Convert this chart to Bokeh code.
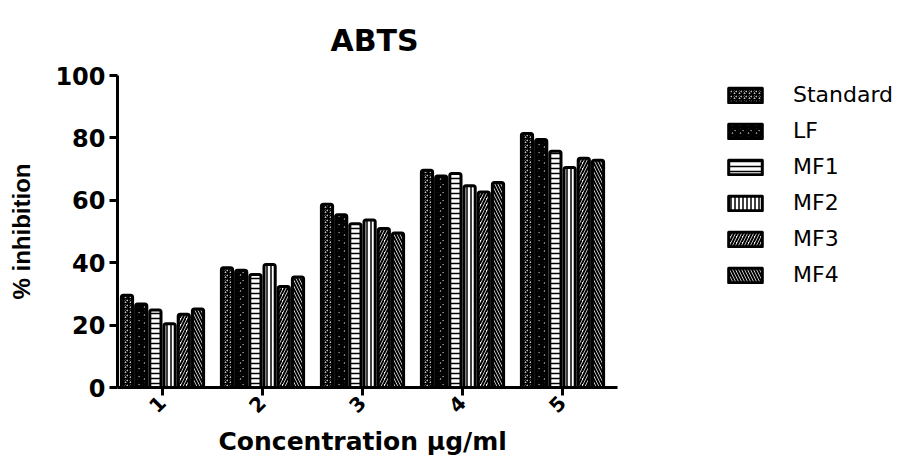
import math
from bokeh.plotting import figure
from bokeh.models import FixedTicker, Legend, LegendItem, Range1d, Title
from bokeh.embed import file_html
from bokeh.resources import INLINE

# ---- data ----
concentrations = [1, 2, 3, 4, 5]
tick_labels = ["1", "2", "3", "4", "5"]
series_names = ["Standard", "LF", "MF1", "MF2", "MF3", "MF4"]
standard = [29.6, 38.4, 58.7, 69.6, 81.4]
lf = [26.8, 37.6, 55.4, 67.8, 79.5]
mf1 = [24.8, 36.2, 52.5, 68.6, 75.7]
mf2 = [20.4, 39.4, 53.7, 64.7, 70.5]
mf3 = [23.5, 32.4, 51.0, 62.7, 73.5]
mf4 = [25.2, 35.4, 49.5, 65.7, 72.8]
y_ticks = [0, 20, 40, 60, 80, 100]

series_values = [standard, lf, mf1, mf2, mf3, mf4]

# ---- styles ----
HFONT = "DejaVu Sans"
VFONT = "Liberation Sans"
styles = [
    dict(hatch_pattern="criss_cross", hatch_scale=5, hatch_weight=1.5),
    dict(hatch_pattern="criss_cross", hatch_scale=8, hatch_weight=3),
    dict(hatch_pattern="horizontal_line", hatch_scale=5, hatch_weight=1.5),
    dict(hatch_pattern="vertical_line", hatch_scale=4, hatch_weight=1.5),
    dict(hatch_pattern="right_diagonal_line", hatch_scale=6, hatch_weight=2),
    dict(hatch_pattern="left_diagonal_line", hatch_scale=6, hatch_weight=2),
]

W, H = 904, 458
LEFT, RIGHT, TOP, BOTTOM = 117, 8, 75, 70
PX_PER_UNIT = 100.0
x0 = 0.55
frame_w = W - LEFT - RIGHT
p = figure(width=W, height=H, output_backend="svg", toolbar_location=None,
           x_range=Range1d(x0, x0 + frame_w / PX_PER_UNIT), y_range=Range1d(0, 100),
           min_border_left=LEFT, min_border_right=RIGHT, min_border_top=TOP,
           min_border_bottom=BOTTOM)
p.outline_line_color = None
p.xgrid.visible = False
p.ygrid.visible = False

step = 14.2 / PX_PER_UNIT
bar_w = 11.2 / PX_PER_UNIT
renderers = []
for k, (vals, st) in enumerate(zip(series_values, styles)):
    xs = [c + (k - 2.5) * step for c in concentrations]
    r = p.vbar(x=xs, top=vals, bottom=0, width=bar_w, fill_color="white",
               line_color="black", line_width=3, line_join="round",
               hatch_color="black", border_radius=2, **st)
    renderers.append(r)

legend = Legend(items=[LegendItem(label=n, renderers=[r]) for n, r in zip(series_names, renderers)],
                location=(607, 100), padding=0, margin=0, spacing=11,
                glyph_width=42, glyph_height=18, label_height=18, label_standoff=27,
                border_line_color=None, background_fill_alpha=0,
                label_text_font=HFONT, label_text_font_size="22px",
                label_text_color="black")
p.add_layout(legend, "center")

# axes
for ax in (p.xaxis[0], p.yaxis[0]):
    ax.axis_line_width = 3
    ax.axis_line_color = "black"
    ax.major_tick_line_width = 3
    ax.major_tick_line_color = "black"
    ax.major_tick_out = 8
    ax.major_tick_in = 0
    ax.minor_tick_line_color = None
    ax.major_label_text_font = HFONT
    ax.major_label_text_font_style = "bold"
    ax.major_label_text_color = "black"
    ax.major_label_standoff = 4
    ax.axis_label_text_font_style = "bold"
    ax.axis_label_text_color = "black"

p.yaxis.major_label_text_font_size = "24px"
p.xaxis.major_label_text_font_size = "20px"

p.xaxis.ticker = FixedTicker(ticks=concentrations)
p.xaxis.major_label_overrides = {c: t for c, t in zip(concentrations, tick_labels)}
p.xaxis.bounds = (x0, 5.55)
p.xaxis.major_label_orientation = math.pi / 4

xtitle = Title(text="Concentration μg/ml", align="left", offset=101,
               text_font=HFONT, text_font_style="bold", text_font_size="25px",
               text_color="black", standoff=5)
p.add_layout(xtitle, "below")

p.yaxis.ticker = FixedTicker(ticks=y_ticks)
p.yaxis.axis_label = "% inhibition"
p.yaxis.axis_label_text_font = VFONT
p.yaxis.axis_label_text_font_size = "24px"
p.yaxis.axis_label_standoff = 17

p.title.text = "ABTS"
p.title.align = "left"
p.title.offset = 213
p.title.text_font = HFONT
p.title.text_font_style = "bold"
p.title.text_font_size = "30px"
p.title.text_color = "black"
p.title.standoff = 36

open("out.html", "w").write(file_html(p, INLINE))
